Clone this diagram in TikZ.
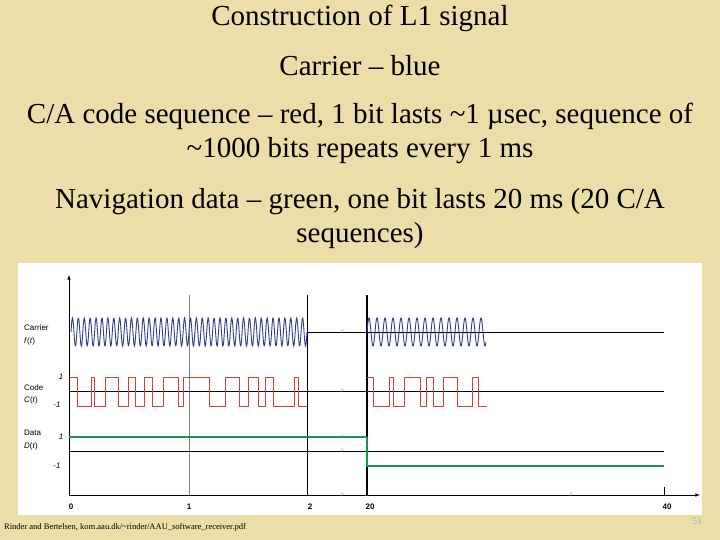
\documentclass[tikz,border=0pt]{standalone}
\usepackage{fontspec}
\setmainfont{Liberation Serif}
\setsansfont{Liberation Sans}
\definecolor{bg}{RGB}{236,222,168}
\definecolor{carr}{RGB}{50,60,140}
\definecolor{codec}{RGB}{215,60,60}
\definecolor{datc}{RGB}{20,150,80}
\tikzset{title/.style={font=\fontsize{29}{32}\selectfont,anchor=center,inner sep=0},
lab/.style={font=\sffamily\fontsize{8}{9}\selectfont,inner sep=0},
tick/.style={font=\sffamily\bfseries\fontsize{8}{9}\selectfont,inner sep=0},
axline/.style={black,line width=0.6pt}}
\begin{document}
\begin{tikzpicture}[x=1pt,y=-1pt]
\fill[bg] (0,0) rectangle (720,540);
\useasboundingbox (0,0) rectangle (720,540);
\fill[white] (18,263) rectangle (702,515);
\node[title] (t1) at (360,18) {Construction of L1 signal};
\node[title] (t2) at (360,66) {Carrier – blue};
\node[title] (t3) at (360,116) {C/A code sequence – red, 1 bit lasts \textasciitilde1 µsec, sequence of};
\node[title] (t4) at (360,151) {\textasciitilde1000 bits repeats every 1 ms};
\node[title] (t5) at (360,202) {Navigation data – green, one bit lasts 20 ms (20 C/A};
\node[title] (t6) at (360,236) {sequences)};
% axes
\coordinate (o) at (69,495);
\coordinate (ytop) at (69,275);
\coordinate (xend) at (700,495);
\draw[axline,-latex] (o) -- (ytop);
\draw[axline,-latex] (o) -- (xend);
\draw[gray,line width=0.5pt] (189,295) -- (189,495);
\draw[axline] (307,295) -- (307,495);
\draw[black,line width=1.4pt] (367,295) -- (367,495);
\draw[axline] (664,487) -- (664,495);
% baselines
\draw[axline] (307,332) -- (664,332);
\draw[axline] (69,391) -- (664,391);
\draw[axline] (69,451) -- (664,451);
% carrier
\draw[carr,line width=0.9pt,domain=0:40,samples=500,smooth] plot ({71+5.9*\x},{332-14*sin(360*\x)});
\draw[carr,line width=0.9pt,domain=0:14.875,samples=300,smooth] plot ({367+8*\x},{332-14*sin(360*\x)});
% code
\draw[codec,line width=1pt] (70,377) -| (77.7,406) -| (91,377) -| (94.3,406) -| (105,377) -| (118,406) -| (128,377) -| (135.7,406) -| (144,377) -| (152,406) -| (163.7,377) -| (178,406) -| (183.7,377) -| (209,406) -| (225,377) -| (239,406) -| (248,377) -| (258,406) -| (265,377) -| (273,406) -| (294,377) -| (298,406) -- (307,406);
\draw[codec,line width=1pt] (367,377) -| (373,406) -| (389,377) -| (393,406) -| (404,377) -| (420,406) -| (426,377) -| (433,406) -| (443,377) -| (457,406) -| (472,377) -| (478,406) -- (487,406);
% data
\draw[datc,line width=1.2pt] (69,437) -- (367,437);
\draw[datc,line width=1.6pt] (367,437) -- (367,466) -- (664,466);
% labels
\node[lab,anchor=west] (l1) at (24,328) {Carrier};
\node[lab,anchor=west] (l2) at (24,341) {\textit{f}(\textit{t})};
\node[lab,anchor=west] (l3) at (24,388) {Code};
\node[lab,anchor=west] (l4) at (24,400) {\textit{C}(\textit{t})};
\node[lab,anchor=west] (l5) at (24,433) {Data};
\node[lab,anchor=west] (l6) at (24,446) {\textit{D}(\textit{t})};
\node[lab] (v1) at (61,377) {\textit{1}};
\node[lab] (v2) at (57,405) {-\textit{1}};
\node[lab] (v3) at (61,437) {\textit{1}};
\node[lab] (v4) at (57,466) {-\textit{1}};
\node[tick] (x0) at (71,507) {0};
\node[tick] (x1) at (189,507) {1};
\node[tick] (x2) at (310,507) {2};
\node[tick] (x20) at (370,507) {20};
\node[tick] (x40) at (667,507) {40};
% breaks
\foreach \yy in {332,391,437,451,495} \node[lab,gray] at (342,\yy) {\tiny\textit{//}};
\node[lab,gray] at (571,495) {\tiny\textit{//}};
\node[font=\fontsize{8.5}{9}\selectfont,anchor=west,inner sep=0] (src) at (4,527) {Rinder and Bertelsen, kom.aau.dk/\textasciitilde rinder/AAU\_software\_receiver.pdf};
\node[font=\fontsize{10}{11}\selectfont,text=gray!60,inner sep=0] (pg) at (697,521) {51};
\end{tikzpicture}
\end{document}
